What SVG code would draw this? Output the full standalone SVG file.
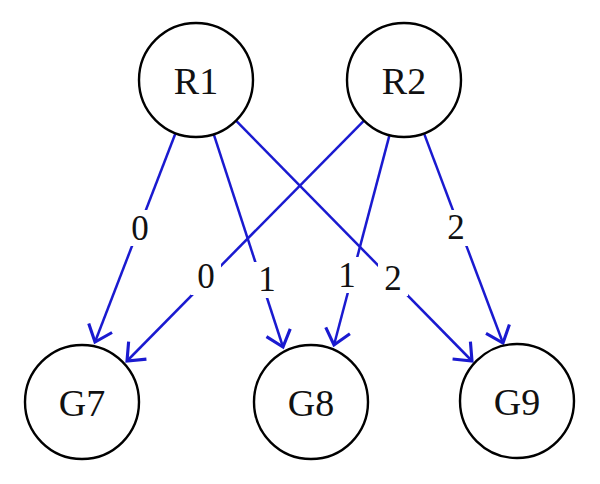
<svg xmlns="http://www.w3.org/2000/svg" width="600" height="484" viewBox="0 0 600 484">
<style>
.node circle{fill:#ffffff;stroke:#000000;stroke-width:2.4}
.node text{font-family:"Liberation Serif","Times New Roman",serif;font-size:38px;fill:#111111;text-anchor:middle}
.edge line{stroke:#1a1ad0;stroke-width:2.5;fill:none}
.lbl rect{fill:#ffffff;stroke:none}
.lbl text{font-family:"Liberation Serif","Times New Roman",serif;font-size:35px;fill:#111111;text-anchor:middle}
</style>
<defs>
<marker id="arr" markerUnits="userSpaceOnUse" markerWidth="30" markerHeight="30" viewBox="-16 -12 20 24" refX="0" refY="0" orient="auto">
<path d="M-12,-10 L0,0 L-12,10" fill="none" stroke="#1a1ad0" stroke-width="2.5"/>
</marker>
</defs>
<rect width="600" height="484" fill="#ffffff"/>
<g id="connectors">
<g class="edge" id="e-R1-G7"><line x1="175.5" y1="133.2" x2="95" y2="342" marker-end="url(#arr)"/></g>
<g class="edge" id="e-R1-G8"><line x1="213.7" y1="134.2" x2="283" y2="347" marker-end="url(#arr)"/></g>
<g class="edge" id="e-R1-G9"><line x1="236" y1="120.7" x2="472" y2="361" marker-end="url(#arr)"/></g>
<g class="edge" id="e-R2-G7"><line x1="364" y1="120.6" x2="127" y2="361" marker-end="url(#arr)"/></g>
<g class="edge" id="e-R2-G8"><line x1="389.5" y1="135.1" x2="334" y2="345" marker-end="url(#arr)"/></g>
<g class="edge" id="e-R2-G9"><line x1="424" y1="133.4" x2="503" y2="343" marker-end="url(#arr)"/></g>
<g class="lbl"><rect x="125" y="210" width="30" height="36"/><text x="140" y="240">0</text></g>
<g class="lbl"><rect x="191" y="259" width="30" height="36"/><text x="206" y="288">0</text></g>
<g class="lbl"><rect x="252" y="262" width="30" height="36"/><text x="267" y="291">1</text></g>
<g class="lbl"><rect x="332" y="257" width="30" height="36"/><text x="347" y="287">1</text></g>
<g class="lbl"><rect x="378" y="260" width="30" height="36"/><text x="393" y="290">2</text></g>
<g class="lbl"><rect x="441" y="210" width="30" height="36"/><text x="456" y="239">2</text></g>
</g>
<g id="R1" class="node"><circle cx="196" cy="80" r="57"/><text x="196" y="94">R1</text></g>
<g id="R2" class="node"><circle cx="404" cy="80" r="57"/><text x="404" y="94">R2</text></g>
<g id="G7" class="node"><circle cx="82" cy="402" r="57"/><text x="82" y="416">G7</text></g>
<g id="G8" class="node"><circle cx="311" cy="402" r="57"/><text x="311" y="416">G8</text></g>
<g id="G9" class="node"><circle cx="517" cy="401" r="57"/><text x="517" y="415">G9</text></g>
</svg>
